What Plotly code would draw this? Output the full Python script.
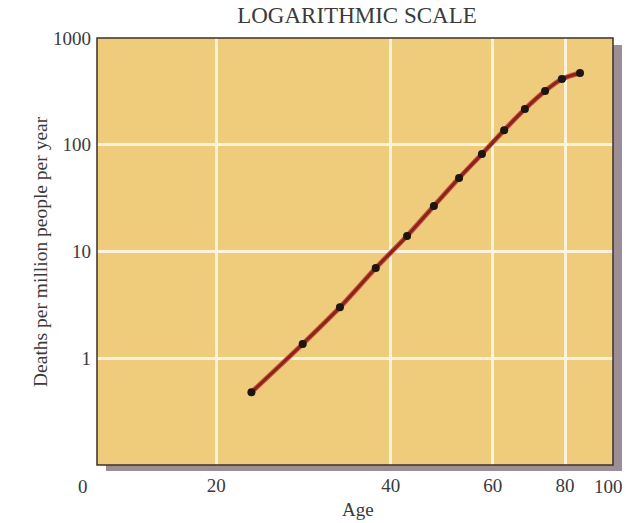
import numpy as np
import plotly.graph_objects as go

# Data (log-log chart)
ages = [23.0, 28.2, 32.7, 37.7, 42.7, 47.5, 52.5, 57.5, 62.8, 68.2, 73.9, 79.0, 84.9]
deaths = [0.48, 1.36, 3.0, 7.0, 14.0, 26.7, 48.8, 82.0, 137.0, 216.0, 319.0, 413.0, 470.0]

x_ticks = [20, 40, 60, 80]
x_tick_text = ["20", "40", "60", "80"]
y_ticks = [1, 10, 100, 1000]
y_tick_text = ["1", "10", "100", "1000"]

FONT = "Liberation Serif"
TXT = "#3a3a3a"

W, H = 626, 523
ML, MR, MT, MB = 97, 13, 38, 58
PW, PH = W - ML - MR, H - MT - MB

fig = go.Figure()

# curve
fig.add_trace(go.Scatter(
    x=ages, y=deaths, mode="lines",
    line=dict(color="#c9584a", width=5, shape="spline", smoothing=0.8),
    hoverinfo="skip", showlegend=False))
fig.add_trace(go.Scatter(
    x=ages, y=deaths, mode="lines",
    line=dict(color="#8a2418", width=3, shape="spline", smoothing=0.8),
    hoverinfo="skip", showlegend=False))
fig.add_trace(go.Scatter(
    x=ages, y=deaths, mode="markers",
    marker=dict(color="#1e1410", size=8),
    showlegend=False))

# drop shadow (right and bottom) in paper coords
dx, dy = 9 / PW, 6 / PH
fig.add_shape(type="rect", xref="paper", yref="paper",
              x0=dx, x1=1 + dx, y0=-dy, y1=1 - 7 / PH,
              fillcolor="#9c8e96", line=dict(width=0), layer="below")
fig.add_shape(type="rect", xref="paper", yref="paper",
              x0=0, x1=1, y0=0, y1=1,
              fillcolor="#efcb7c", line=dict(width=0), layer="below")
# border
fig.add_shape(type="rect", xref="paper", yref="paper",
              x0=0, x1=1, y0=0, y1=1,
              line=dict(color="#3e3026", width=1.5), layer="above")

label_y = -(486 - (MT + PH)) / PH

fig.update_layout(
    width=W, height=H,
    margin=dict(l=ML, r=MR, t=MT, b=MB, autoexpand=False),
    paper_bgcolor="white",
    plot_bgcolor="rgba(0,0,0,0)",
    font=dict(family=FONT, size=19, color=TXT),
    title=dict(text="LOGARITHMIC SCALE", x=357 / W, xanchor="center",
               y=1 - 15 / H, yanchor="middle",
               font=dict(family=FONT, size=23, color=TXT)),
    xaxis=dict(type="log",
               range=[np.log10(12.45), np.log10(96.8)],
               tickvals=x_ticks, ticktext=x_tick_text,
               showgrid=True, gridcolor="#fdf3da", gridwidth=3,
               zeroline=False, showline=False, ticks="",
               ticklabelstandoff=7, automargin=False,
               tickfont=dict(family=FONT, size=19, color=TXT)),
    yaxis=dict(type="log", range=[-1, 3],
               tickvals=y_ticks, ticktext=y_tick_text,
               showgrid=True, gridcolor="#fdf3da", gridwidth=3,
               zeroline=False, showline=False, ticks="",
               ticklabelstandoff=5, automargin=False,
               tickfont=dict(family=FONT, size=19, color=TXT)),
    annotations=[
        dict(text="0", xref="paper", yref="paper",
             x=(83 - ML) / PW, y=label_y,
             xanchor="center", yanchor="middle", showarrow=False,
             font=dict(family=FONT, size=19, color=TXT)),
        dict(text="100", xref="paper", yref="paper",
             x=(608 - ML) / PW, y=label_y,
             xanchor="center", yanchor="middle", showarrow=False,
             font=dict(family=FONT, size=19, color=TXT)),
        dict(text="Age", xref="paper", yref="paper",
             x=(358 - ML) / PW, y=-(510 - (MT + PH)) / PH,
             xanchor="center", yanchor="middle", showarrow=False,
             font=dict(family=FONT, size=19, color=TXT)),
        dict(text="Deaths per million people per year", xref="paper", yref="paper",
             x=(40 - ML) / PW, y=1 - (252 - MT) / PH, textangle=-90,
             xanchor="center", yanchor="middle", showarrow=False,
             font=dict(family=FONT, size=19.5, color=TXT)),
    ],
)

fig.write_html("out.html")
